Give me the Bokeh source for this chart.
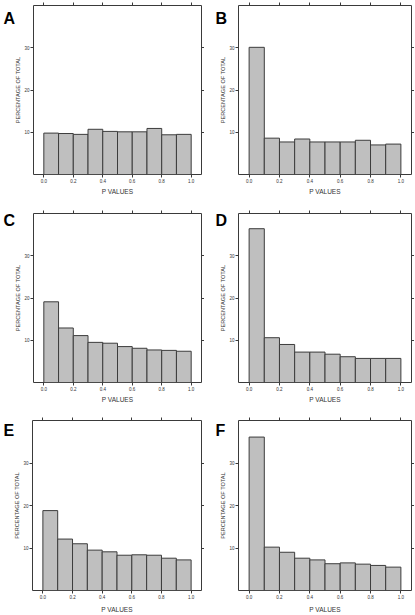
from bokeh.plotting import figure
from bokeh.layouts import column, row
from bokeh.models import Range1d, LinearAxis, FixedTicker, Label, PrintfTickFormatter
from bokeh.embed import file_html
from bokeh.resources import INLINE

# ---------------- data ----------------
bin_edges = [0.0, 0.1, 0.2, 0.3, 0.4, 0.5, 0.6, 0.7, 0.8, 0.9, 1.0]
panel_A = [9.8, 9.7, 9.5, 10.7, 10.2, 10.1, 10.1, 10.9, 9.4, 9.5]
panel_B = [30.1, 8.6, 7.7, 8.4, 7.7, 7.7, 7.7, 8.1, 7.0, 7.2]
panel_C = [19.1, 12.9, 11.1, 9.5, 9.3, 8.5, 8.1, 7.7, 7.6, 7.4]
panel_D = [36.4, 10.6, 9.0, 7.2, 7.2, 6.7, 6.1, 5.7, 5.7, 5.7]
panel_E = [18.8, 12.1, 11.0, 9.5, 9.1, 8.3, 8.4, 8.3, 7.6, 7.2]
panel_F = [36.1, 10.2, 9.0, 7.6, 7.2, 6.3, 6.5, 6.2, 5.9, 5.5]
panel_letters = ["A", "B", "C", "D", "E", "F"]
x_ticks = [0.0, 0.2, 0.4, 0.6, 0.8, 1.0]
y_ticks = [10, 20, 30]
x_label = "P VALUES"
y_label = "PERCENTAGE OF TOTAL"

# ---------------- styling / layout ----------------
FONT = "Liberation Sans"
BAR_FILL = "#bfbfbf"
BAR_LINE = "#3c3c3c"
BOX = "#3a3a3a"
TXT = "#333333"
X0, X1 = -0.07, 1.07
Y0, Y1 = 0, 40

# row geometry: (fig height, border_top, border_bottom, letter baseline below frame top, xlabel standoff)
rows_geom = [
    (205, 5, 31, 13.3, 2),
    (207, 8, 30, 6.5, 2),
    (203, 8, 24, 10.0, 4),
]
# column geometry: (fig width, border_left, border_right)
cols_geom = [
    (204, 28, 3),
    (210, 34, 3),
]


def make_panel(vals, letter, r, c):
    h, bt, bb, letter_dy, xlab_s = rows_geom[r]
    w, bl, br = cols_geom[c]
    p = figure(width=w, height=h, output_backend="svg", toolbar_location=None,
               x_range=Range1d(X0, X1), y_range=Range1d(Y0, Y1),
               min_border_left=bl, min_border_right=br,
               min_border_top=bt, min_border_bottom=bb)
    p.grid.visible = False
    p.outline_line_color = BOX
    p.outline_line_width = 1
    p.background_fill_color = "white"
    p.border_fill_color = "white"

    p.quad(left=bin_edges[:-1], right=bin_edges[1:], bottom=0, top=vals,
           fill_color=BAR_FILL, line_color=BAR_LINE, line_width=1)

    bottom_ax = p.below[0]
    left_ax = p.left[0]
    # extra label-less axes carrying the ticks on top and right
    top_ax = LinearAxis()
    right_ax = LinearAxis()
    p.add_layout(top_ax, "above")
    p.add_layout(right_ax, "right")

    for ax in (bottom_ax, top_ax):
        ax.ticker = FixedTicker(ticks=x_ticks)
        ax.formatter = PrintfTickFormatter(format="%.1f")
    for ax in (left_ax, right_ax):
        ax.ticker = FixedTicker(ticks=y_ticks)
    for ax in (bottom_ax, left_ax, top_ax, right_ax):
        ax.axis_line_color = None
        ax.major_tick_line_color = BOX
        ax.major_tick_in = 0
        ax.major_tick_out = 3
        ax.minor_tick_line_color = None
        ax.minor_tick_in = 0
        ax.minor_tick_out = 0
        ax.major_label_text_font = FONT
        ax.major_label_text_font_size = "4.5px"
        ax.major_label_text_color = TXT
        ax.major_label_standoff = 1
        ax.axis_label_text_font = FONT
        ax.axis_label_text_font_style = "normal"
        ax.axis_label_text_color = TXT
    for ax in (top_ax, right_ax):
        ax.major_label_text_font_size = "0px"
        ax.major_label_text_color = None
        ax.major_label_standoff = 0
        ax.axis_label = None

    bottom_ax.axis_label = x_label
    bottom_ax.axis_label_text_font_size = "6.5px"
    bottom_ax.axis_label_standoff = xlab_s
    left_ax.axis_label = y_label
    left_ax.axis_label_text_font_size = "5.6px"
    left_ax.axis_label_standoff = 0

    # panel letter, placed in the left side panel (not clipped to the frame)
    kw = dict(text=letter, text_font=FONT, text_font_style="bold",
              text_font_size="16px", text_color="black",
              text_align="left", text_baseline="alphabetic",
              y=Y1, y_units="data", y_offset=-letter_dy)
    if c == 0:
        lab = Label(x=3, x_units="screen", **kw)
    else:
        lab = Label(x=X0, x_units="data", x_offset=-23, **kw)
    p.add_layout(lab, "left")
    return p


data = [panel_A, panel_B, panel_C, panel_D, panel_E, panel_F]
panels = [make_panel(data[i], panel_letters[i], i // 2, i % 2) for i in range(6)]

layout = column(row(panels[0], panels[1]),
                row(panels[2], panels[3]),
                row(panels[4], panels[5]))

open("out.html", "w").write(file_html(layout, INLINE))
